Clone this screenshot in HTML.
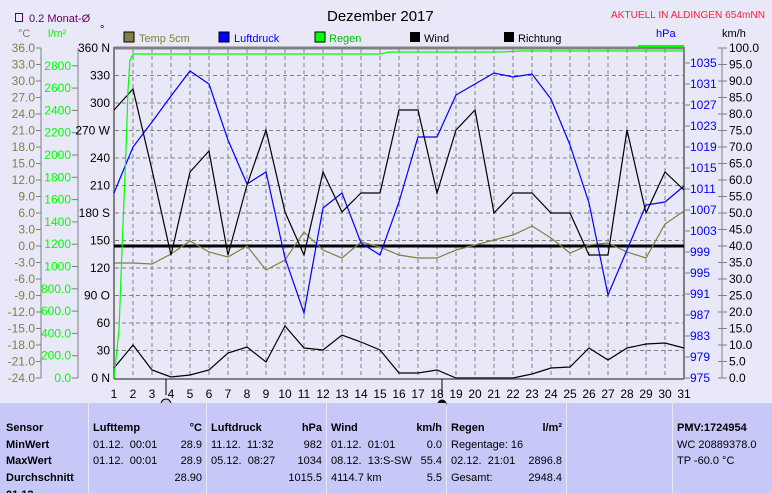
<!DOCTYPE html>
<html><head><style>
body{margin:0;width:772px;height:490px;overflow:hidden;background:#e8e8f8;font-family:"Liberation Sans",sans-serif;}
svg{position:absolute;left:0;top:0}
.tb{position:absolute;top:403px;height:90px;background:#c8c8f8;font-size:11px;line-height:16.7px;padding-top:17px;box-sizing:border-box;overflow:hidden}
.tb div{white-space:nowrap;position:relative}
.r{position:absolute;right:4px;top:0}
b{font-weight:bold}
</style></head><body>
<svg width="772" height="490" font-family="Liberation Sans, sans-serif" font-size="12">
<text x="327" y="21" font-size="15">Dezember 2017</text>
<text x="611" y="18" font-size="10" fill="#ff2040" textLength="154" lengthAdjust="spacingAndGlyphs">AKTUELL IN ALDINGEN 654mNN</text>
<rect x="15.5" y="13.5" width="7" height="8" fill="none" stroke="#600060"/>
<text x="29" y="22" fill="#600060" font-size="11">0.2 Monat-Ø</text>
<text x="18" y="37" fill="#808040" font-size="11">°C</text>
<text x="48" y="37" fill="#00ff00" font-size="11">l/m²</text>
<text x="100" y="33" font-size="11">°</text>
<text x="656" y="37" fill="#0000ff" font-size="11">hPa</text>
<text x="722" y="37" font-size="11">km/h</text>
<rect x="124" y="32" width="10" height="10" fill="#808040" stroke="#000"/><text x="139" y="42" fill="#808040" font-size="11">Temp 5cm</text>
<rect x="219" y="32" width="10" height="10" fill="#0000ff" stroke="#000"/><text x="234" y="42" fill="#0000ff" font-size="11">Luftdruck</text>
<rect x="315" y="32" width="10" height="10" fill="#00ff00" stroke="#000"/><text x="329" y="42" fill="#00c000" font-size="11">Regen</text>
<rect x="410" y="32" width="10" height="10" fill="#000"/><text x="424" y="42" font-size="11">Wind</text>
<rect x="504" y="32" width="10" height="10" fill="#000"/><text x="518" y="42" font-size="11">Richtung</text>
<g id="grid" stroke="#808080" stroke-dasharray="4,3" stroke-width="1"></g>
<line x1="114" y1="48" x2="684" y2="48" stroke="#808080" stroke-width="3"/>
<line x1="114" y1="47" x2="114" y2="379" stroke="#808080" stroke-width="2"/>
<line x1="684" y1="47" x2="684" y2="379" stroke="#808080" stroke-width="2"/>
<line x1="114" y1="379" x2="684" y2="379" stroke="#808080" stroke-width="2"/>
<line x1="114" y1="246" x2="684" y2="246" stroke="#000" stroke-width="3"/>
<g id="axes"></g>
<g id="series" fill="none" stroke-width="1.2"></g>
<circle cx="166" cy="404" r="5" fill="#ccc" stroke="#000"/>
<circle cx="442" cy="404" r="4.5" fill="#000"/>
<line x1="166" y1="379" x2="166" y2="395" stroke="#000"/>
<line x1="442" y1="379" x2="442" y2="395" stroke="#000"/>
</svg>
<div class="tb" style="left:0;width:88px;padding-left:6px"><div><b>Sensor</b></div><div><b>MinWert</b></div><div><b>MaxWert</b></div><div><b>Durchschnitt</b></div><div><b>01.12.</b></div></div>
<div class="tb" style="left:89px;width:117px;padding-left:4px"><div><b>Lufttemp</b><span class="r"><b>°C</b></span></div><div>01.12.&nbsp; 00:01<span class="r">28.9</span></div><div>01.12.&nbsp; 00:01<span class="r">28.9</span></div><div>&nbsp;<span class="r">28.90</span></div></div>
<div class="tb" style="left:207px;width:119px;padding-left:4px"><div><b>Luftdruck</b><span class="r"><b>hPa</b></span></div><div>11.12.&nbsp; 11:32<span class="r">982</span></div><div>05.12.&nbsp; 08:27<span class="r">1034</span></div><div>&nbsp;<span class="r">1015.5</span></div></div>
<div class="tb" style="left:327px;width:119px;padding-left:4px"><div><b>Wind</b><span class="r"><b>km/h</b></span></div><div>01.12.&nbsp; 01:01<span class="r">0.0</span></div><div>08.12.&nbsp; 13:S-SW<span class="r">55.4</span></div><div>4114.7 km<span class="r">5.5</span></div></div>
<div class="tb" style="left:447px;width:119px;padding-left:4px"><div><b>Regen</b><span class="r"><b>l/m²</b></span></div><div>Regentage: 16</div><div>02.12.&nbsp; 21:01<span class="r">2896.8</span></div><div>Gesamt:<span class="r">2948.4</span></div></div>
<div class="tb" style="left:567px;width:105px"></div>
<div class="tb" style="left:673px;width:99px;padding-left:4px"><div><b>PMV:1724954</b></div><div>WC 20889378.0</div><div>TP -60.0 °C</div></div>
<script>
const NS="http://www.w3.org/2000/svg";
function el(p,t,a,txt){const e=document.createElementNS(NS,t);for(const k in a)e.setAttribute(k,a[k]);if(txt!==undefined)e.textContent=txt;p.appendChild(e);return e;}
const g=document.getElementById('grid'),ax=document.getElementById('axes'),s=document.getElementById('series');
const X=d=>114+(d-1)*19;
for(let d=2;d<=30;d++)el(g,'line',{x1:X(d),y1:49,x2:X(d),y2:378});
for(let i=1;i<12;i++){const y=378-i*27.5;el(g,'line',{x1:115,y1:y,x2:683,y2:y});}
for(let d=1;d<=31;d++)el(ax,'text',{x:X(d),y:398,'text-anchor':'middle'},d);
el(ax,'line',{x1:41,y1:48,x2:41,y2:378,stroke:'#808080'});
for(let i=0;i<=20;i++){const v=36-3*i,y=48+i*16.5;el(ax,'line',{x1:36,y1:y,x2:41,y2:y,stroke:'#808080'});el(ax,'text',{x:35,y:y+4,'text-anchor':'end',fill:'#808040'},v.toFixed(1));}
el(ax,'line',{x1:78,y1:48,x2:78,y2:378,stroke:'#808080'});
for(let i=0;i<=14;i++){const v=i*200,y=378-i*22.3;el(ax,'line',{x1:72,y1:y,x2:78,y2:y,stroke:'#808080'});el(ax,'text',{x:71,y:y+4,'text-anchor':'end',fill:'#00ff00'},v<1000?v.toFixed(1):v);}
const dl={360:'360 N',270:'270 W',180:'180 S',90:'90  O',0:'0   N'};
for(let i=0;i<=12;i++){const v=i*30,y=378-i*27.5;el(ax,'text',{x:110,y:y+4,'text-anchor':'end','xml:space':'preserve'},dl[v]||v);}
for(let i=0;i<=15;i++){const v=975+4*i,y=378-i*21;el(ax,'line',{x1:685,y1:y,x2:690,y2:y,stroke:'#808080'});el(ax,'text',{x:690,y:y+4,fill:'#0000ff'},v);}
el(ax,'line',{x1:722,y1:48,x2:722,y2:378,stroke:'#808080'});
for(let i=0;i<=20;i++){const v=100-5*i,y=48+i*16.5;el(ax,'line',{x1:718,y1:y,x2:727,y2:y,stroke:'#808080'});el(ax,'text',{x:729,y:y+4},v.toFixed(1));}
function line(arr,c){el(s,'polyline',{points:arr.map((y,i)=>X(i+1)+','+y).join(' '),stroke:c});}
line([263,263,264,254,241,252,257,246,270,260,232,250,258,242,247,255,258,258,250,245,240,235,226,238,253,245,243,252,258,224,211],'#808040');
line([193,147,122,96,71,84,140,184,172,258,313,208,193,243,255,202,137,137,95,84,73,77,74,99,145,203,295,250,205,202,186],'#0000ff');
line([110,89,170,255,172,151,255,185,130,212,255,172,212,193,193,110,110,193,130,110,213,193,193,213,213,255,255,130,213,172,190],'#000');
line([368,345,370,377,375,370,353,347,362,326,348,350,335,342,350,373,373,370,378,378,378,378,374,368,367,348,360,348,344,343,348],'#000');
el(s,'polyline',{points:'114,378 119,330 122,250 126,150 128,90 130,60 133,54 380,54 390,52 500,52 520,51 684,51',stroke:'#00ff00'});
el(s,'line',{x1:638,y1:46,x2:684,y2:46,stroke:'#00ff00','stroke-width':2});
</script>
</body></html>
